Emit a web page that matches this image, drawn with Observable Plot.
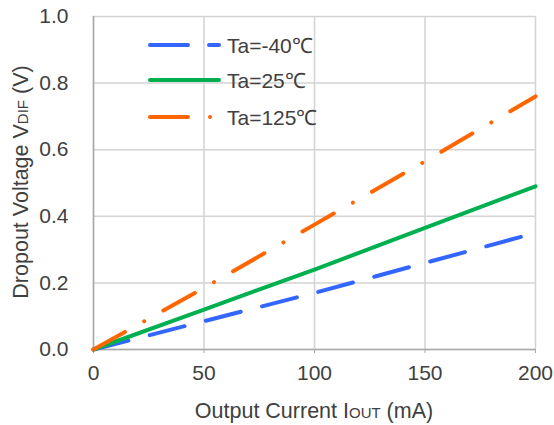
<!DOCTYPE html>
<html>
<head>
<meta charset="utf-8">
<script src="https://cdn.jsdelivr.net/npm/d3@7"></script>
<script src="https://cdn.jsdelivr.net/npm/@observablehq/plot@0.6"></script>
<style>
  body { margin: 0; background: #fff; }
  #wrap { position: relative; width: 554px; height: 425px; font-family: "Liberation Sans", Arial, sans-serif; }
  #legend { position: absolute; left: 0; top: 0; pointer-events: none; }
</style>
</head>
<body>
<div id="wrap"></div>
<script>
// Data
const currentMA = [0, 50, 100, 150, 200];
const vMinus40 = [0, 0.085, 0.17, 0.26, 0.35];
const v25 = [0, 0.12, 0.24, 0.365, 0.49];
const v125 = [0, 0.185, 0.375, 0.565, 0.76];
const seriesNames = ["Ta=-40\u2103", "Ta=25\u2103", "Ta=125\u2103"];
const xTicks = [0, 50, 100, 150, 200];
const yTicks = [0, 0.2, 0.4, 0.6, 0.8, 1.0];

const colors = ["#3366ff", "#00b050", "#ff6600"];
const dashes = ["36,22", null, "36,22,0.01,22"];
const legendDashes = ["38,21", null, "38,22,0.01,22"];
const seriesValues = [vMinus40, v25, v125];

const table = [];
seriesValues.forEach((vals, s) => {
  vals.forEach((v, i) => table.push({series: seriesNames[s], x: currentMA[i], y: v}));
});

const fontFamily = '"Liberation Sans", Arial, sans-serif';
const textColor = "#404040";

const lineMarks = seriesNames.map((name, s) =>
  Plot.line(table.filter(d => d.series === name), {
    x: "x", y: "y",
    stroke: colors[s],
    strokeWidth: 4,
    strokeLinecap: "round",
    strokeDasharray: dashes[s] || undefined
  })
);

const chart = Plot.plot({
  width: 554,
  height: 425,
  marginLeft: 93,
  marginRight: 19,
  marginTop: 16,
  marginBottom: 76,
  style: {fontFamily, fontSize: "21px", color: textColor, background: "#fff", overflow: "visible"},
  x: {domain: [0, 200], label: null},
  y: {domain: [0, 1], label: null},
  marks: [
    Plot.gridX(xTicks, {stroke: "#d3d3d3", strokeOpacity: 1, strokeWidth: 1.5}),
    Plot.gridY(yTicks, {stroke: "#d3d3d3", strokeOpacity: 1, strokeWidth: 1.5}),
    Plot.ruleX([0], {stroke: "#a8a8a8", strokeWidth: 1.5}),
    Plot.ruleY([0], {stroke: "#a8a8a8", strokeWidth: 1.5}),
    Plot.axisX({ticks: xTicks, tickFormat: d3.format("d"), tickSize: 4, tickPadding: 12, stroke: "#a8a8a8", label: null, fontSize: 21}),
    Plot.axisY({ticks: yTicks, tickFormat: d3.format(".1f"), tickSize: 0, tickPadding: 25, label: null, fontSize: 21}),
    ...lineMarks
  ]
});

const wrap = document.getElementById("wrap");
wrap.appendChild(chart);

// Axis titles with smaller subscript-like parts
const svg = d3.select(chart);
const yl = svg.append("text")
  .attr("transform", "translate(28,182) rotate(-90)")
  .attr("text-anchor", "middle")
  .attr("fill", textColor)
  .style("font-family", fontFamily)
  .style("font-size", "21.5px");
yl.append("tspan").text("Dropout Voltage V");
yl.append("tspan").style("font-size", "15px").text("DIF");
yl.append("tspan").text(" (V)");

const xl = svg.append("text")
  .attr("transform", "translate(314,418)")
  .attr("text-anchor", "middle")
  .attr("fill", textColor)
  .style("font-family", fontFamily)
  .style("font-size", "21.5px");
xl.append("tspan").text("Output Current I");
xl.append("tspan").style("font-size", "15px").text("OUT");
xl.append("tspan").text(" (mA)");

// Legend overlay
const legend = d3.select(wrap).append("svg")
  .attr("id", "legend")
  .attr("width", 554).attr("height", 425);
const rowY = [45, 80, 117];
seriesNames.forEach((name, s) => {
  const g = legend.append("g").attr("transform", `translate(0,${rowY[s]})`);
  g.append("line")
    .attr("x1", 150).attr("x2", 219).attr("y1", 0).attr("y2", 0)
    .attr("stroke", colors[s]).attr("stroke-width", 4)
    .attr("stroke-linecap", "round")
    .attr("stroke-dasharray", legendDashes[s] || null);
  g.append("text")
    .attr("x", 227).attr("y", 7.5)
    .attr("fill", textColor)
    .style("font-family", fontFamily)
    .style("font-size", "21px")
    .text(name);
});
</script>
</body>
</html>
